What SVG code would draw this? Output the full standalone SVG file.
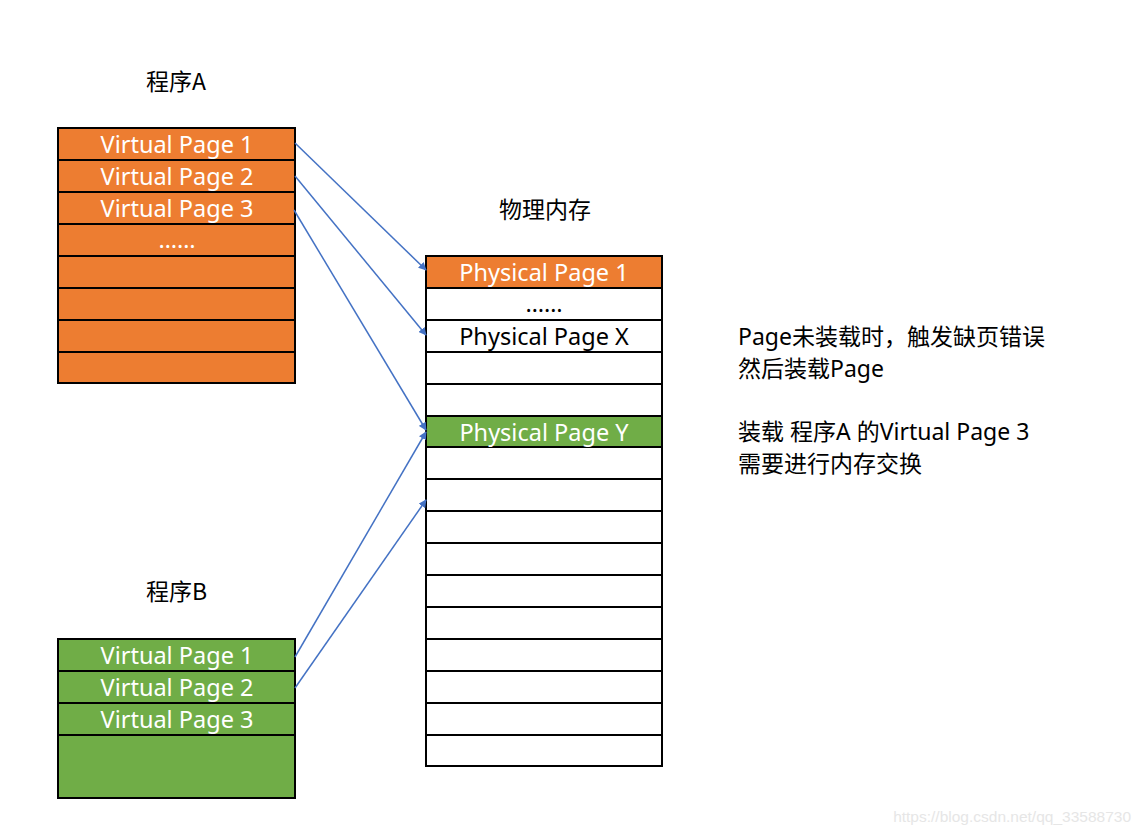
<svg xmlns="http://www.w3.org/2000/svg" width="1142" height="832" viewBox="0 0 1142 832">
  <defs>
    <marker id="arrow" viewBox="0 0 10 10" refX="9" refY="5" markerWidth="8" markerHeight="8" markerUnits="userSpaceOnUse" orient="auto">
      <path d="M0,0 L10,5 L0,10 z" fill="#4472C4"/>
    </marker>
    <style>
      .orange { fill: #ED7D31; stroke: #000; stroke-width: 2; }
      .green { fill: #70AD47; stroke: #000; stroke-width: 2; }
      .white { fill: #fff; stroke: #000; stroke-width: 2; }
      .cell { font-family: "Noto Sans", "Open Sans", sans-serif; font-size: 23.5px; text-anchor: middle; }
      .light { fill: #fff; }
      .dark { fill: #000; }
      .title { font-family: "Noto Sans CJK SC", "Noto Sans", sans-serif; font-size: 23px; fill: #000; }
      .note { font-family: "Noto Sans", "Noto Sans CJK SC", sans-serif; font-size: 23px; fill: #000; }
      .link { stroke: #4472C4; stroke-width: 1.5; fill: none; marker-end: url(#arrow); }
    </style>
  </defs>
  <rect width="1142" height="832" fill="#fff"/>

  <!-- Program A -->
  <g id="programA">
    <text class="title" x="146" y="90">程序A</text>
    <rect class="orange" x="58" y="128" width="237" height="32"/>
    <rect class="orange" x="58" y="160" width="237" height="32"/>
    <rect class="orange" x="58" y="192" width="237" height="32"/>
    <rect class="orange" x="58" y="224" width="237" height="32"/>
    <rect class="orange" x="58" y="256" width="237" height="32"/>
    <rect class="orange" x="58" y="288" width="237" height="32"/>
    <rect class="orange" x="58" y="320" width="237" height="32"/>
    <rect class="orange" x="58" y="352" width="237" height="31"/>
    <text class="cell light" x="177" y="153">Virtual Page 1</text>
    <text class="cell light" x="177" y="185">Virtual Page 2</text>
    <text class="cell light" x="177" y="217">Virtual Page 3</text>
    <text class="cell light" x="177" y="248">……</text>
  </g>

  <!-- Program B -->
  <g id="programB">
    <text class="title" x="146" y="600">程序B</text>
    <rect class="green" x="58" y="639" width="237" height="32"/>
    <rect class="green" x="58" y="671" width="237" height="32"/>
    <rect class="green" x="58" y="703" width="237" height="32"/>
    <rect class="green" x="58" y="735" width="237" height="63"/>
    <text class="cell light" x="177" y="664">Virtual Page 1</text>
    <text class="cell light" x="177" y="696">Virtual Page 2</text>
    <text class="cell light" x="177" y="728">Virtual Page 3</text>
  </g>

  <!-- Physical memory -->
  <g id="physicalMemory">
    <text class="title" x="545" y="218" text-anchor="middle">物理内存</text>
    <rect class="orange" x="426" y="256" width="236" height="32"/>
    <rect class="white" x="426" y="288" width="236" height="32"/>
    <rect class="white" x="426" y="320" width="236" height="32"/>
    <rect class="white" x="426" y="352" width="236" height="32"/>
    <rect class="white" x="426" y="384" width="236" height="32"/>
    <rect class="green" x="426" y="416" width="236" height="31"/>
    <rect class="white" x="426" y="447" width="236" height="32"/>
    <rect class="white" x="426" y="479" width="236" height="32"/>
    <rect class="white" x="426" y="511" width="236" height="32"/>
    <rect class="white" x="426" y="543" width="236" height="32"/>
    <rect class="white" x="426" y="575" width="236" height="32"/>
    <rect class="white" x="426" y="607" width="236" height="32"/>
    <rect class="white" x="426" y="639" width="236" height="32"/>
    <rect class="white" x="426" y="671" width="236" height="32"/>
    <rect class="white" x="426" y="703" width="236" height="32"/>
    <rect class="white" x="426" y="735" width="236" height="31"/>
    <text class="cell light" x="544" y="281">Physical Page 1</text>
    <text class="cell dark" x="544" y="312">……</text>
    <text class="cell dark" x="544" y="345">Physical Page X</text>
    <text class="cell light" x="544" y="441">Physical Page Y</text>
  </g>

  <!-- Notes -->
  <g id="notes">
    <text class="note" x="738" y="345">Page未装载时，触发缺页错误</text>
    <text class="note" x="738" y="377">然后装载Page</text>
    <text class="note" x="738" y="440">装载 程序A 的Virtual Page 3</text>
    <text class="note" x="738" y="472">需要进行内存交换</text>
  </g>

  <!-- Page mappings -->
  <g id="connectors">
    <line class="link" x1="295" y1="143" x2="426" y2="270"/>
    <line class="link" x1="295" y1="176" x2="426" y2="335"/>
    <line class="link" x1="294" y1="210" x2="426" y2="430"/>
    <line class="link" x1="295" y1="657" x2="426" y2="432"/>
    <line class="link" x1="295" y1="688" x2="426" y2="500"/>
  </g>

  <text x="1131" y="822" text-anchor="end" font-family="Liberation Sans, sans-serif" font-size="15.5" fill="#e6e6e6">https://blog.csdn.net/qq_33588730</text>
</svg>
